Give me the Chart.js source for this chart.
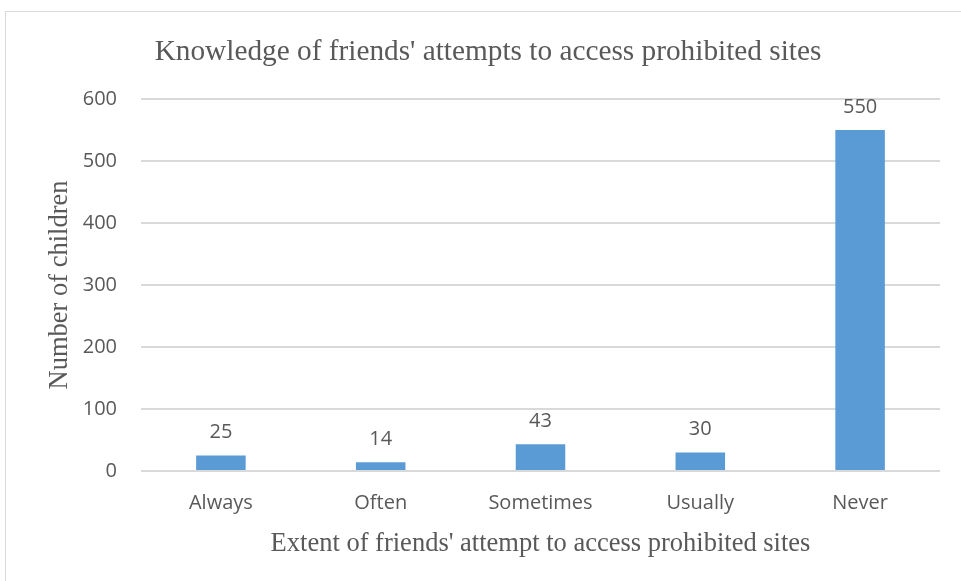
<!DOCTYPE html>
<html>
<head>
<meta charset="utf-8">
<script src="https://cdn.jsdelivr.net/npm/chart.js@4"></script>
<style>
    body { margin: 0; background: #fff; }
    .chart-box { position: relative; width: 961px; height: 581px; }
</style>
</head>
<body>
<div class="chart-box"><canvas id="friendsChart"></canvas></div>
<script>
const categories = ["Always", "Often", "Sometimes", "Usually", "Never"];
const childCounts = [25, 14, 43, 30, 550];
const yTicks = [0, 100, 200, 300, 400, 500, 600];
const chartHeading = "Knowledge of friends' attempts to access prohibited sites";

const textGray = '#595959';
const gridGray = '#d9d9d9';

// Thin frame around the whole chart
const framePlugin = {
    id: 'frame',
    beforeDraw(chart) {
        const ctx = chart.ctx;
        ctx.save();
        ctx.strokeStyle = gridGray;
        ctx.lineWidth = 1;
        ctx.strokeRect(5.5, 11.5, 1000, 700);
        ctx.restore();
    }
};

// Heading, centred a bit right of the canvas middle like the plot
const headingPlugin = {
    id: 'heading',
    afterDraw(chart) {
        const ctx = chart.ctx;
        ctx.save();
        ctx.font = '29.3px "Liberation Serif"';
        ctx.fillStyle = textGray;
        ctx.textAlign = 'center';
        ctx.textBaseline = 'alphabetic';
        ctx.fillText(chartHeading, 488, 60);
        ctx.restore();
    }
};

// Value printed above each bar
const valueLabels = {
    id: 'valueLabels',
    afterDatasetsDraw(chart) {
        const ctx = chart.ctx;
        const meta = chart.getDatasetMeta(0);
        ctx.save();
        ctx.font = '20px "Open Sans"';
        ctx.fillStyle = textGray;
        ctx.textAlign = 'center';
        ctx.textBaseline = 'middle';
        meta.data.forEach((bar, i) => {
            ctx.fillText(chart.data.datasets[0].data[i], bar.x, bar.y - 23);
        });
        ctx.restore();
    }
};

const ctx = document.getElementById('friendsChart').getContext('2d');
const friendsChart = new Chart(ctx, {
    type: 'bar',
    data: {
        labels: categories,
        datasets: [{
            data: childCounts,
            backgroundColor: '#5b9bd5',
            categoryPercentage: 1,
            barPercentage: 0.31
        }]
    },
    options: {
        responsive: true,
        maintainAspectRatio: false,
        animation: false,
        layout: { padding: { left: 5, top: 99, right: 21, bottom: 0 } },
        plugins: {
            legend: { display: false },
            tooltip: { enabled: false },
            title: { display: false }
        },
        scales: {
            x: {
                grid: { display: false },
                border: { display: false },
                ticks: {
                    color: textGray,
                    font: { family: '"Open Sans"', size: 20 },
                    padding: 12
                },
                title: {
                    display: true,
                    text: "Extent of friends' attempt to access prohibited sites",
                    color: textGray,
                    font: { family: '"Liberation Serif"', size: 26.5 },
                    padding: { top: 0, bottom: 21 }
                },
                afterFit(scale) { scale.height = 110; }
            },
            y: {
                min: 0,
                max: 600,
                afterBuildTicks(scale) { scale.ticks = yTicks.map(v => ({ value: v })); },
                grid: { color: gridGray, lineWidth: 2, drawTicks: false },
                border: { display: false },
                ticks: {
                    color: textGray,
                    font: { family: '"Open Sans"', size: 20 },
                    padding: 24
                },
                title: {
                    display: true,
                    text: 'Number of children',
                    color: textGray,
                    font: { family: '"Liberation Serif"', size: 26.5 },
                    padding: { top: 39, bottom: 0 }
                },
                afterFit(scale) { scale.width = 136; }
            }
        }
    },
    plugins: [framePlugin, headingPlugin, valueLabels]
});
</script>
</body>
</html>
